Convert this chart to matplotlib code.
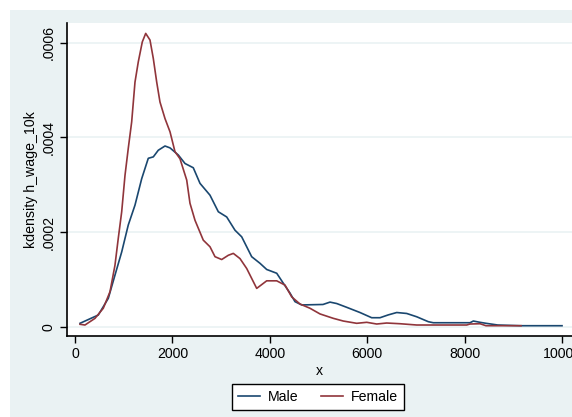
import matplotlib
matplotlib.use("Agg")
import matplotlib.pyplot as plt
from matplotlib.patches import Rectangle

# ---- data ----
male_x = [103, 478, 684, 821, 959, 1094, 1232, 1370, 1505, 1608, 1710, 1848, 1951,
          2121, 2259, 2429, 2567, 2772, 2943, 3115, 3285, 3423, 3628, 3799, 3936,
          4142, 4277, 4415, 4517, 4655, 5092, 5236, 5374, 5579, 5852, 6092, 6263,
          6433, 6606, 6811, 7017, 7255, 7357, 8111, 8179, 8316, 8439, 8680, 9158, 10000]
male_y = [7.2e-6, 2.47e-5, 6.0e-5, 1.09e-4, 1.58e-4, 2.15e-4, 2.57e-4, 3.13e-4,
          3.56e-4, 3.59e-4, 3.73e-4, 3.82e-4, 3.78e-4, 3.63e-4, 3.45e-4, 3.36e-4,
          3.03e-4, 2.78e-4, 2.43e-4, 2.32e-4, 2.04e-4, 1.90e-4, 1.48e-4, 1.34e-4,
          1.21e-4, 1.13e-4, 9.2e-5, 7.1e-5, 5.3e-5, 4.6e-5, 4.7e-5, 5.2e-5, 4.9e-5,
          4.1e-5, 3.0e-5, 1.9e-5, 1.9e-5, 2.5e-5, 3.0e-5, 2.8e-5, 2.1e-5, 1.06e-5,
          8.4e-6, 8.4e-6, 1.2e-5, 9.3e-6, 7.2e-6, 3.6e-6, 2.1e-6, 2.1e-6]

female_x = [103, 205, 411, 581, 719, 821, 889, 959, 1027, 1094, 1164, 1232, 1300,
            1382, 1452, 1540, 1608, 1678, 1745, 1848, 1951, 2053, 2156, 2294, 2361,
            2464, 2634, 2772, 2875, 3012, 3148, 3251, 3388, 3526, 3731, 3936, 4142,
            4312, 4450, 4620, 4825, 5031, 5304, 5509, 5784, 5990, 6195, 6400, 6674,
            7017, 8043, 8111, 8316, 8439, 9158]
female_y = [5.1e-6, 3.6e-6, 1.77e-5, 3.9e-5, 7.4e-5, 1.30e-4, 1.87e-4, 2.43e-4,
            3.20e-4, 3.77e-4, 4.33e-4, 5.17e-4, 5.60e-4, 6.02e-4, 6.20e-4, 6.06e-4,
            5.67e-4, 5.17e-4, 4.75e-4, 4.40e-4, 4.12e-4, 3.70e-4, 3.55e-4, 3.10e-4,
            2.61e-4, 2.25e-4, 1.83e-4, 1.69e-4, 1.48e-4, 1.42e-4, 1.51e-4, 1.55e-4,
            1.44e-4, 1.23e-4, 8.1e-5, 9.7e-5, 9.7e-5, 8.8e-5, 6.3e-5, 4.8e-5, 3.9e-5,
            2.7e-5, 1.77e-5, 1.2e-5, 7.2e-6, 9.3e-6, 5.7e-6, 7.8e-6, 6.3e-6, 3.6e-6,
            3.6e-6, 5.7e-6, 6.3e-6, 2.1e-6, 2.1e-6]

x_ticks = [0, 2000, 4000, 6000, 8000, 10000]
x_tick_labels = ["0", "2000", "4000", "6000", "8000", "10000"]
y_ticks = [0, 0.0002, 0.0004, 0.0006]
y_tick_labels = ["0", ".0002", ".0004", ".0006"]
series_names = ["Male", "Female"]

# ---- styling ----
plt.rcParams['font.family'] = ['Liberation Sans', 'DejaVu Sans']
FS = 10.2
BG = "#eaf2f3"
NAVY = "#1a476f"
MAROON = "#90353b"

W, H = 572, 417
fig = plt.figure(figsize=(W / 100, H / 100), dpi=100)
fig.patch.set_facecolor("white")

bg_ax = fig.add_axes([0, 0, 1, 1], zorder=-10)
bg_ax.set_xlim(0, W)
bg_ax.set_ylim(H, 0)
bg_ax.axis("off")
bg_ax.add_patch(Rectangle((10, 10), W - 10, H - 10, facecolor=BG, edgecolor="none"))

left, right = 67 / W, 1.0
bottom, top = 1 - 335.7 / H, 1 - 23 / H
ax = fig.add_axes([left, bottom, right - left, top - bottom], zorder=1)
ax.set_facecolor("white")

ax.plot(male_x, male_y, color=NAVY, lw=1.2, label=series_names[0], zorder=3)
ax.plot(female_x, female_y, color=MAROON, lw=1.2, label=series_names[1], zorder=4)

ax.set_xlim(-164, 10205)
ax.set_ylim(-0.000019, 0.000642)

ax.set_xticks(x_ticks)
ax.set_xticklabels(x_tick_labels, fontsize=FS)
ax.set_yticks(y_ticks)
ax.set_yticklabels(y_tick_labels, fontsize=FS, rotation=90, va="center")

ax.grid(axis="y", color=BG, lw=1.2, zorder=1)
ax.grid(axis="x", visible=False)
ax.set_axisbelow(True)

for s in ["top", "right"]:
    ax.spines[s].set_visible(False)
for s in ["left", "bottom"]:
    ax.spines[s].set_linewidth(1.2)
    ax.spines[s].set_color("black")
ax.tick_params(axis="both", direction="out", length=5, width=1.0, color="black",
               labelcolor="black", pad=3)

ax.set_xlabel("x", fontsize=FS, labelpad=2)
ax.set_ylabel("kdensity h_wage_10k", fontsize=FS, labelpad=3)

leg = fig.legend(loc="center", bbox_to_anchor=(318 / W, 1 - 397 / H), ncol=2,
                 fontsize=FS, frameon=True, fancybox=False, handlelength=1.6,
                 handletextpad=0.55, columnspacing=1.55, borderpad=0.4)
leg.set_zorder(5)
leg.get_frame().set_edgecolor("black")
leg.get_frame().set_linewidth(1.0)
leg.get_frame().set_facecolor("white")
leg.get_frame().set_alpha(1)

fig.savefig("out.png", dpi=100, facecolor=fig.get_facecolor())
